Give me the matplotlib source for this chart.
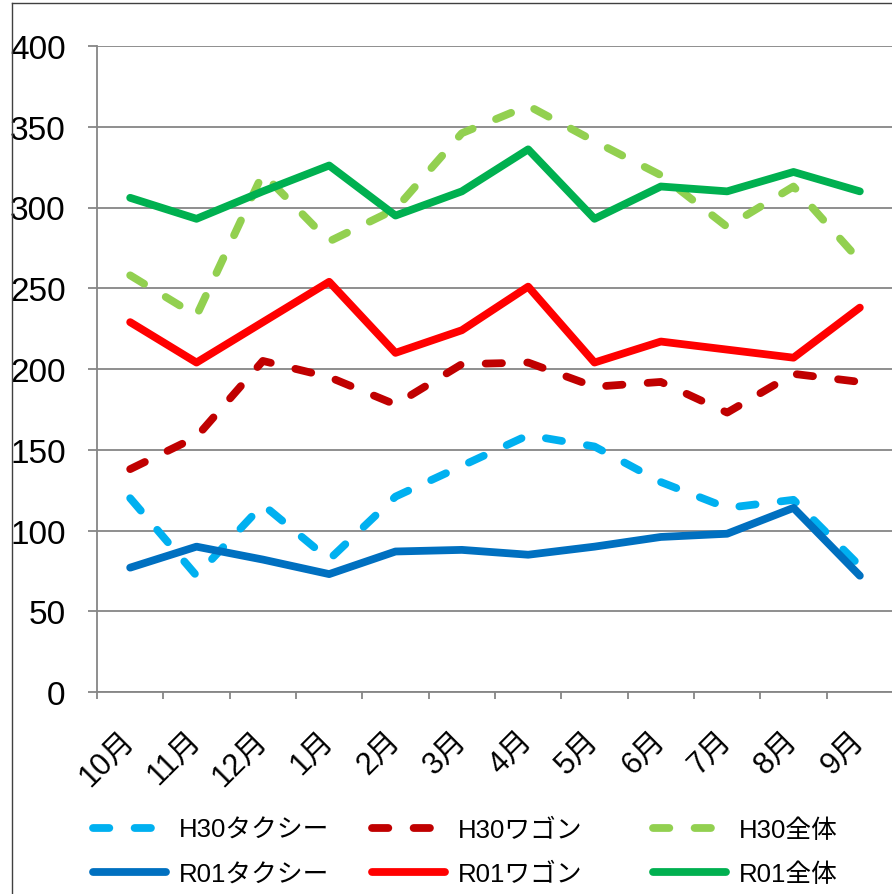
import numpy as np
import matplotlib
matplotlib.use('Agg')
import matplotlib.pyplot as plt
from matplotlib.lines import Line2D

plt.rcParams['font.family'] = ['Liberation Sans', 'Noto Sans CJK JP', 'DejaVu Sans']

# データ
months = ['10月', '11月', '12月', '1月', '2月', '3月', '4月', '5月', '6月', '7月', '8月', '9月']
h30_taxi = [120, 72, 116, 82, 121, 140, 159, 152, 130, 114, 119, 78]
h30_wagon = [138, 158, 205, 195, 178, 203, 204, 189, 192, 173, 197, 192]
h30_total = [258, 233, 321, 279, 299, 346, 363, 341, 320, 288, 313, 267]
r01_taxi = [77, 90, 82, 73, 87, 88, 85, 90, 96, 98, 114, 72]
r01_wagon = [229, 204, 229, 254, 210, 224, 251, 204, 217, 212, 207, 238]
r01_total = [306, 293, 310, 326, 295, 310, 336, 293, 313, 310, 322, 310]

series = [
    ('H30タクシー', h30_taxi, '#00B0F0', True),
    ('H30ワゴン', h30_wagon, '#C00000', True),
    ('H30全体', h30_total, '#92D050', True),
    ('R01タクシー', r01_taxi, '#0070C0', False),
    ('R01ワゴン', r01_wagon, '#FF0000', False),
    ('R01全体', r01_total, '#00B050', False),
]

fig = plt.figure(figsize=(8.92, 8.95), dpi=100)
ax = fig.add_axes([97 / 892, 1 - 693 / 895, 796 / 892, 646 / 895])

x = np.arange(len(months))
lw = 5.6
handles = {}
for name, vals, col, dashed in series:
    if dashed:
        ln, = ax.plot(x, vals, color=col, lw=lw, dashes=(2.1, 3.25),
                      dash_capstyle='round', dash_joinstyle='round')
    else:
        ln, = ax.plot(x, vals, color=col, lw=lw,
                      solid_capstyle='round', solid_joinstyle='round')
    handles[name] = ln

gray = '#868686'
ax.set_xlim(-0.5, len(months) - 0.5)
ax.set_ylim(0, 400)
ax.set_yticks(np.arange(0, 401, 50))
ax.yaxis.grid(True, color=gray, lw=1.3)
ax.set_axisbelow(True)

for s in ['top', 'right']:
    ax.spines[s].set_visible(False)
for s in ['left', 'bottom']:
    ax.spines[s].set_color(gray)
    ax.spines[s].set_linewidth(1.3)

ax.tick_params(axis='y', length=6.5, width=1.3, color=gray, pad=16, labelsize=24)
ax.set_xticks(x)
ax.set_xticks(np.arange(-0.5, len(months), 1), minor=True)
ax.tick_params(axis='x', which='major', length=0, pad=31)
ax.tick_params(axis='x', which='minor', length=5, width=1.3, color=gray)
ax.set_xticklabels(months, rotation=45, ha='right', va='center',
                   rotation_mode='anchor', fontsize=22)

# 凡例 (3列)
cols = [('H30タクシー', 'R01タクシー', 93), ('H30ワゴン', 'R01ワゴン', 372), ('H30全体', 'R01全体', 653)]
for a, b, px in cols:
    leg = fig.legend([handles[a], handles[b]], [a, b], loc='center left',
                     bbox_to_anchor=(px / 892, 1 - 853 / 895), frameon=False,
                     fontsize=18.5, handlelength=2.84, handletextpad=0.5,
                     labelspacing=0.8, borderpad=0, borderaxespad=0)

# 外枠
fig.add_artist(Line2D([12 / 892, 12 / 892], [0, 1 - 4 / 895], color='#404040', lw=1))
fig.add_artist(Line2D([12 / 892, 1], [1 - 4 / 895, 1 - 4 / 895], color='#404040', lw=1))

fig.savefig('out.png', dpi=100)
